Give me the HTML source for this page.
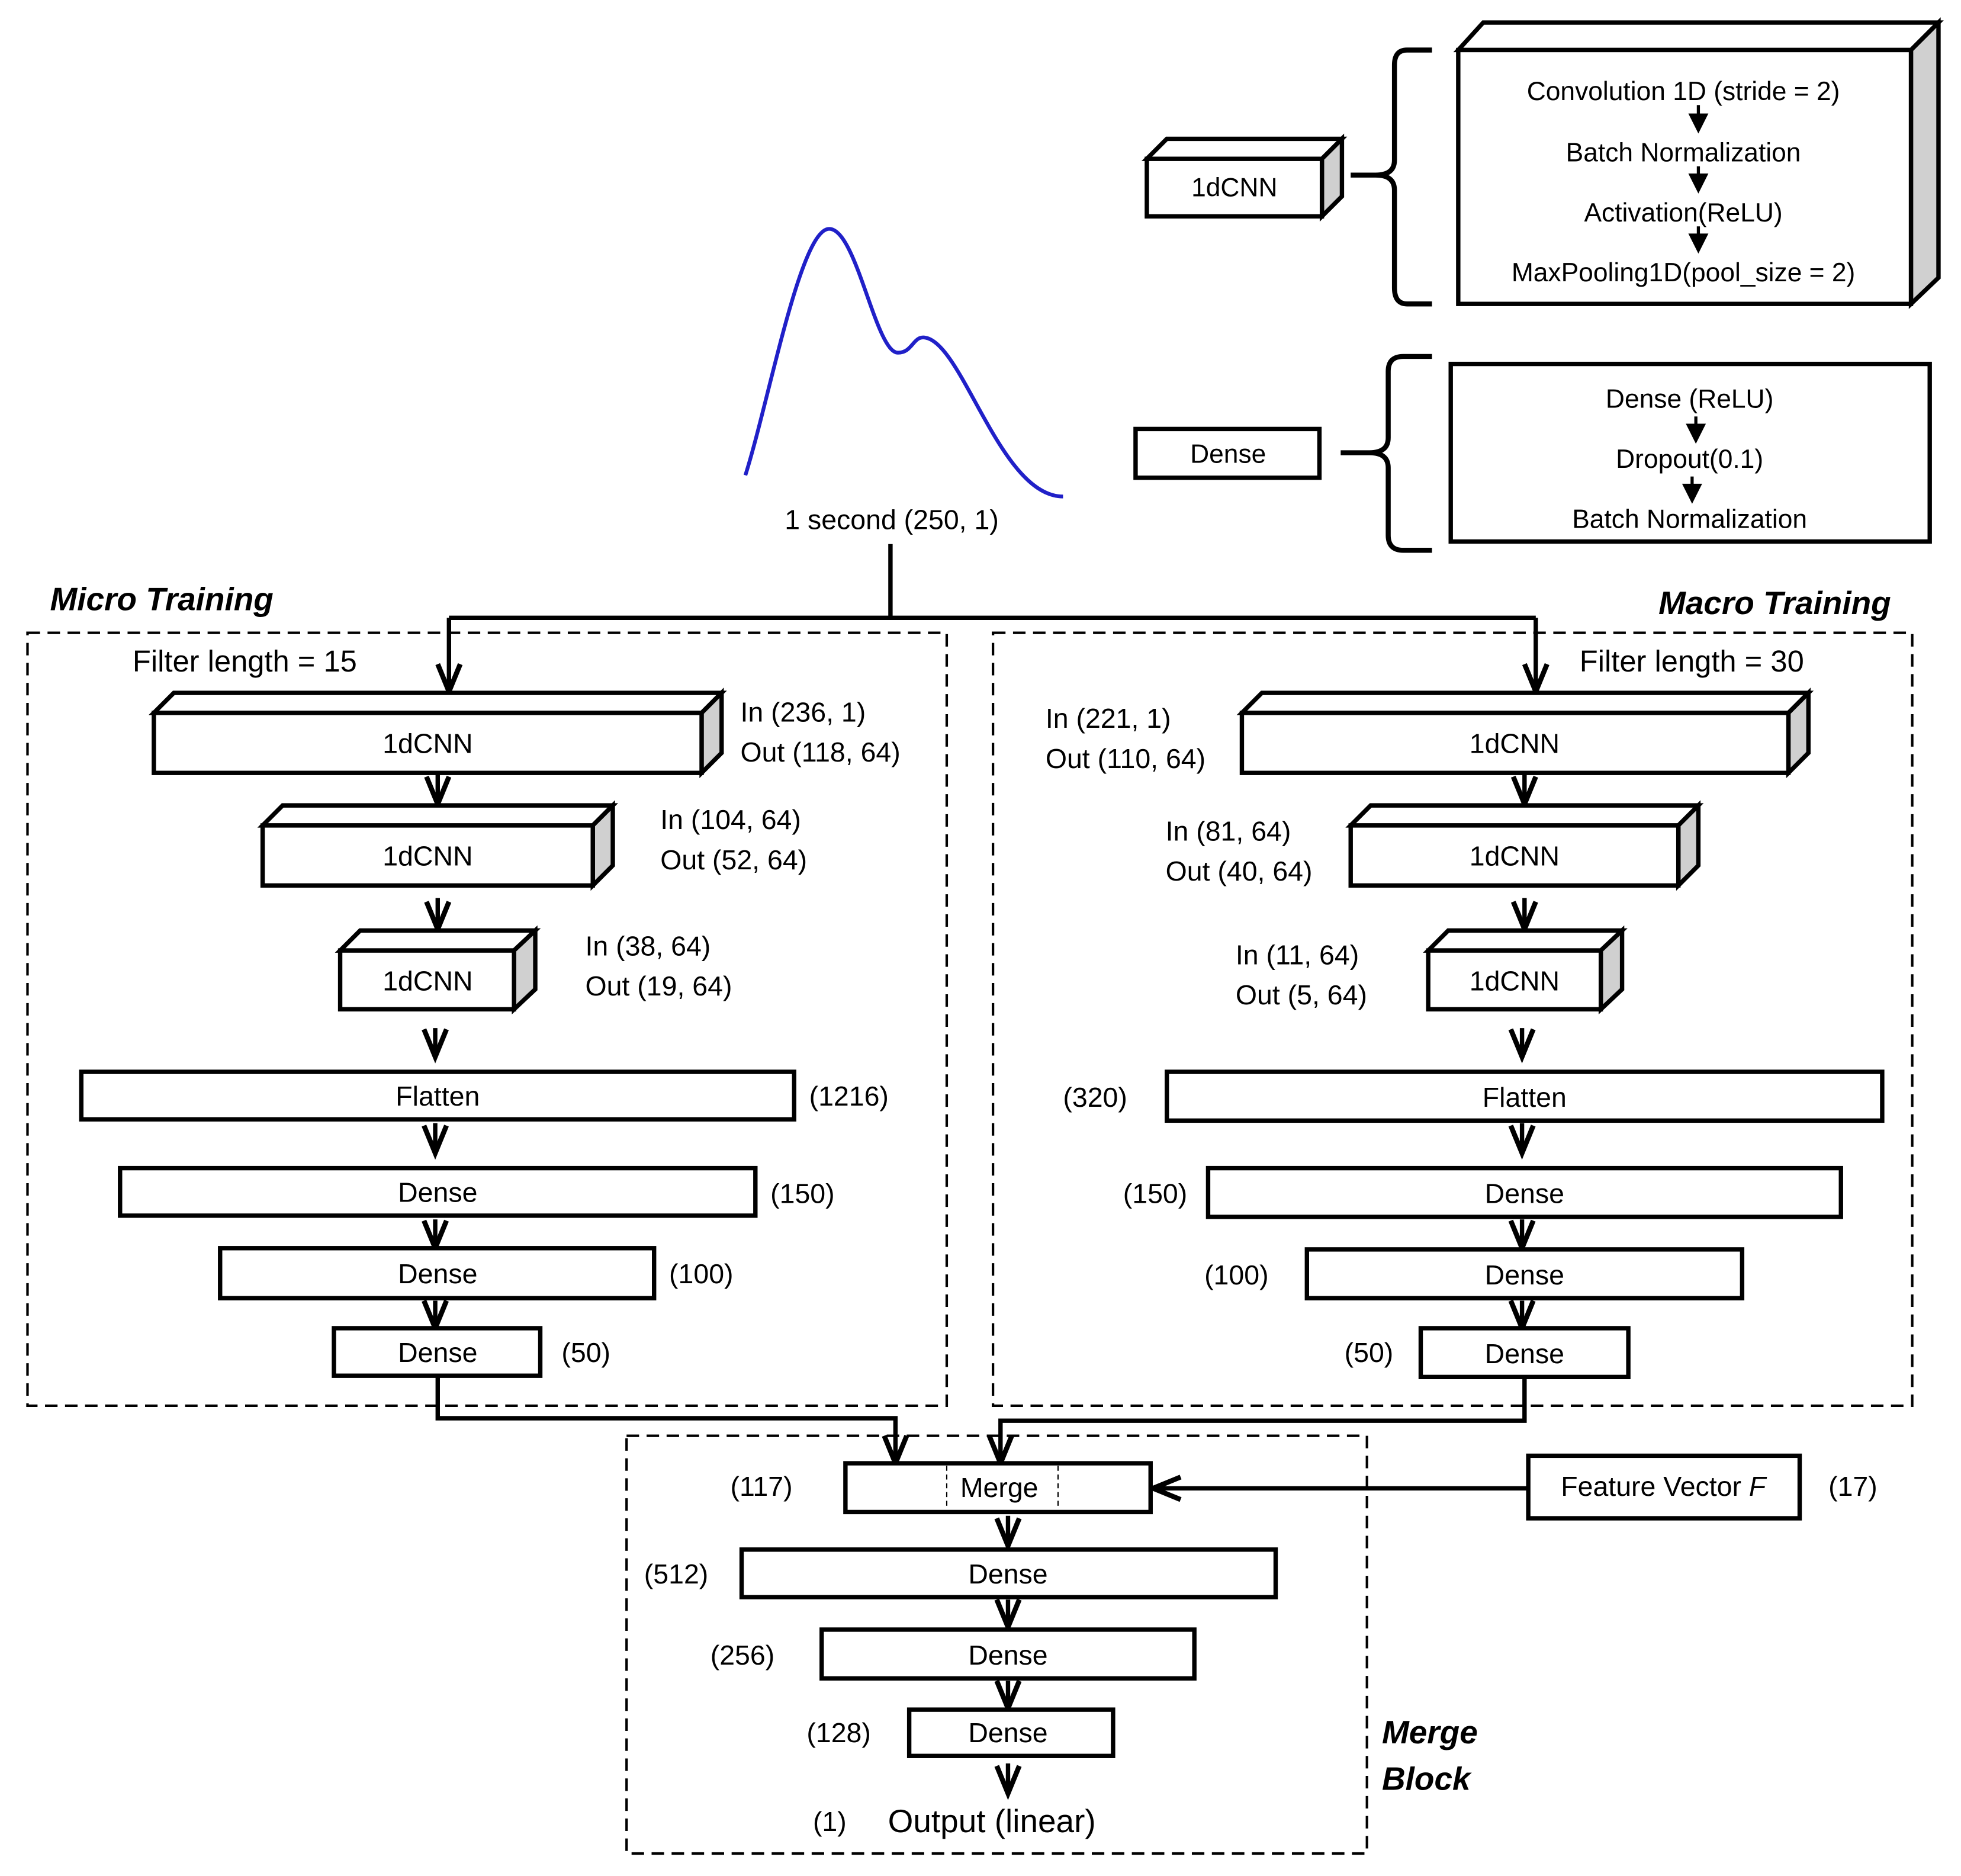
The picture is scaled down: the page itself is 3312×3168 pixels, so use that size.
<!DOCTYPE html>
<html><head><meta charset="utf-8"><style>
html,body{margin:0;padding:0;background:#fff}
svg{display:block}
text{font-family:"Liberation Sans",sans-serif;fill:#000}
</style></head><body>
<svg width="3312" height="3168" viewBox="0 0 1568 1500" preserveAspectRatio="none" xmlns="http://www.w3.org/2000/svg">
<defs>
<g id="ah"><polyline points="-9,-22 0,0 9,-22" fill="none" stroke="#000" stroke-width="4"/></g>
</defs>
<rect width="1568" height="1500" fill="#fff"/>
<g stroke="#000" stroke-width="3.5" fill="#fff" stroke-linejoin="miter">
<polygon points="917,127 933,111 1073,111 1057,127"/>
<polygon points="1057,127 1073,111 1073,157 1057,173" fill="#d0d0d0"/>
<rect x="917" y="127" width="140" height="46"/>
<polygon points="1166,40 1186,18 1550,18 1528,40"/>
<polygon points="1528,40 1550,18 1550,222 1528,243" fill="#d0d0d0"/>
<rect x="1166" y="40" width="362" height="203"/>
<rect x="908" y="343" width="147" height="39"/>
<rect x="1160" y="291" width="383" height="142"/>
</g>
<g fill="none" stroke="#000" stroke-width="4">
<path d="M1145,40 H1125 Q1115,40 1115,52 V128 Q1115,140 1100,140 H1080 M1100,140 Q1115,140 1115,152 V230 Q1115,243 1125,243 H1145"/>
<path d="M1145,285 H1122 Q1110,285 1110,297 V350 Q1110,362 1095,362 H1072 M1095,362 Q1110,362 1110,374 V428 Q1110,440 1122,440 H1145"/>
</g>
<g font-size="21" text-anchor="middle">
<text x="987" y="157">1dCNN</text>
<text x="1346" y="80">Convolution 1D (stride = 2)</text>
<text x="1346" y="129">Batch Normalization</text>
<text x="1346" y="177">Activation(ReLU)</text>
<text x="1346" y="225">MaxPooling1D(pool_size = 2)</text>
<text x="982" y="370">Dense</text>
<text x="1351" y="326">Dense (ReLU)</text>
<text x="1351" y="374">Dropout(0.1)</text>
<text x="1351" y="422">Batch Normalization</text>
</g>
<g fill="#000" stroke="#000" stroke-width="2.5">
<line x1="1358" y1="84" x2="1358" y2="95"/><polygon points="1352,92 1364,92 1358,104"/>
<line x1="1358" y1="133" x2="1358" y2="143"/><polygon points="1352,140 1364,140 1358,152"/>
<line x1="1358" y1="181" x2="1358" y2="191"/><polygon points="1352,188 1364,188 1358,200"/>
<line x1="1356" y1="333" x2="1356" y2="343"/><polygon points="1350,340 1362,340 1356,352"/>
<line x1="1353" y1="381" x2="1353" y2="391"/><polygon points="1347,388 1359,388 1353,400"/>
</g>
<path d="M596,380 C615,320 640,183 663,183 C685,183 700,282 718,282 C730,282 730,268 740,270 C770,275 800,397 850,397" fill="none" stroke="#2020c8" stroke-width="3"/>
<text x="713" y="423" font-size="22" text-anchor="middle">1 second (250, 1)</text>
<g fill="none" stroke="#000" stroke-width="2" stroke-dasharray="10,6">
<rect x="22" y="506" width="735" height="618"/>
<rect x="794" y="506" width="735" height="618"/>
<rect x="501" y="1148" width="592" height="334"/>
</g>
<g font-size="26" font-weight="bold" font-style="italic">
<text x="40" y="488">Micro Training</text>
<text x="1512" y="491" text-anchor="end">Macro Training</text>
<text x="1105" y="1394">Merge</text>
<text x="1105" y="1431">Block</text>
</g>
<g font-size="24">
<text x="106" y="537">Filter length = 15</text>
<text x="1263" y="537">Filter length = 30</text>
</g>
<g fill="none" stroke="#000" stroke-width="3.5">
<path d="M712,435 V494 M359,494 H1228 M359,494 V553 M1228,494 V553"/>
<path d="M350,1100 V1134 H716 V1170"/>
<path d="M1219,1101 V1136 H800 V1170"/>
<path d="M1222,1190 H922"/>
<path d="M350,618 V643 M350,718 V743 M348,822 V845 M348,898 V922 M348,975 V998 M348,1040 V1062"/>
<path d="M1219,618 V643 M1219,718 V743 M1217,822 V845 M1217,898 V922 M1217,975 V998 M1217,1040 V1062"/>
<path d="M806,1212 V1236 M806,1279 V1301 M806,1344 V1366 M806,1410 V1434"/>
</g>
<g>
<use href="#ah" x="359" y="553"/><use href="#ah" x="1228" y="553"/>
<use href="#ah" x="716" y="1170"/><use href="#ah" x="800" y="1170"/>
<use href="#ah" transform="translate(922,1190) rotate(90)"/>
<use href="#ah" x="350" y="643"/><use href="#ah" x="350" y="743"/><use href="#ah" x="348" y="845"/><use href="#ah" x="348" y="922"/><use href="#ah" x="348" y="998"/><use href="#ah" x="348" y="1062"/>
<use href="#ah" x="1219" y="643"/><use href="#ah" x="1219" y="743"/><use href="#ah" x="1217" y="845"/><use href="#ah" x="1217" y="922"/><use href="#ah" x="1217" y="998"/><use href="#ah" x="1217" y="1062"/>
<use href="#ah" x="806" y="1236"/><use href="#ah" x="806" y="1301"/><use href="#ah" x="806" y="1366"/><use href="#ah" x="806" y="1434"/>
</g>
<g stroke="#000" stroke-width="3.5" fill="#fff">
<polygon points="123,570 139,554 577,554 561,570"/><polygon points="561,570 577,554 577,602 561,618" fill="#d0d0d0"/><rect x="123" y="570" width="438" height="48"/>
<polygon points="210,660 226,644 490,644 474,660"/><polygon points="474,660 490,644 490,692 474,708" fill="#d0d0d0"/><rect x="210" y="660" width="264" height="48"/>
<polygon points="272,760 288,744 428,744 411,760"/><polygon points="411,760 428,744 428,791 411,807" fill="#d0d0d0"/><rect x="272" y="760" width="139" height="47"/>
<rect x="65" y="857" width="570" height="38"/>
<rect x="96" y="934" width="508" height="38"/>
<rect x="176" y="998" width="347" height="40"/>
<rect x="267" y="1062" width="165" height="38"/>
<polygon points="993,570 1009,554 1446,554 1430,570"/><polygon points="1430,570 1446,554 1446,602 1430,618" fill="#d0d0d0"/><rect x="993" y="570" width="437" height="48"/>
<polygon points="1080,660 1096,644 1358,644 1342,660"/><polygon points="1342,660 1358,644 1358,692 1342,708" fill="#d0d0d0"/><rect x="1080" y="660" width="262" height="48"/>
<polygon points="1142,760 1158,744 1297,744 1280,760"/><polygon points="1280,760 1297,744 1297,791 1280,807" fill="#d0d0d0"/><rect x="1142" y="760" width="138" height="47"/>
<rect x="933" y="857" width="572" height="39"/>
<rect x="966" y="934" width="506" height="39"/>
<rect x="1045" y="999" width="348" height="39"/>
<rect x="1136" y="1062" width="166" height="39"/>
<rect x="676" y="1170" width="244" height="39"/>
<rect x="1222" y="1164" width="217" height="50"/>
<rect x="593" y="1239" width="427" height="38"/>
<rect x="657" y="1303" width="298" height="39"/>
<rect x="727" y="1367" width="163" height="37"/>
</g>
<g stroke="#000" stroke-width="1" stroke-dasharray="4,3"><line x1="757" y1="1172" x2="757" y2="1207"/><line x1="846" y1="1172" x2="846" y2="1207"/></g>
<g font-size="22" text-anchor="middle">
<text x="342" y="602">1dCNN</text><text x="342" y="692">1dCNN</text><text x="342" y="792">1dCNN</text>
<text x="350" y="884">Flatten</text><text x="350" y="961">Dense</text><text x="350" y="1026">Dense</text><text x="350" y="1089">Dense</text>
<text x="1211" y="602">1dCNN</text><text x="1211" y="692">1dCNN</text><text x="1211" y="792">1dCNN</text>
<text x="1219" y="885">Flatten</text><text x="1219" y="962">Dense</text><text x="1219" y="1027">Dense</text><text x="1219" y="1090">Dense</text>
<text x="799" y="1197">Merge</text><text x="1330" y="1196">Feature Vector <tspan font-style="italic">F</tspan></text>
<text x="806" y="1266">Dense</text><text x="806" y="1331">Dense</text><text x="806" y="1393">Dense</text>
</g>
<g font-size="22">
<text x="592" y="577">In (236, 1)</text><text x="592" y="609">Out (118, 64)</text>
<text x="528" y="663">In (104, 64)</text><text x="528" y="695">Out (52, 64)</text>
<text x="468" y="764">In (38, 64)</text><text x="468" y="796">Out (19, 64)</text>
<text x="647" y="884">(1216)</text><text x="616" y="962">(150)</text><text x="535" y="1026">(100)</text><text x="449" y="1089">(50)</text>
<text x="836" y="582">In (221, 1)</text><text x="836" y="614">Out (110, 64)</text>
<text x="932" y="672">In (81, 64)</text><text x="932" y="704">Out (40, 64)</text>
<text x="988" y="771">In (11, 64)</text><text x="988" y="803">Out (5, 64)</text>
<text x="850" y="885">(320)</text><text x="898" y="962">(150)</text><text x="963" y="1027">(100)</text><text x="1075" y="1089">(50)</text>
<text x="584" y="1196">(117)</text><text x="1462" y="1196">(17)</text>
<text x="515" y="1266">(512)</text><text x="568" y="1331">(256)</text><text x="645" y="1393">(128)</text>
<text x="650" y="1464">(1)</text>
</g>
<text x="710" y="1465" font-size="26">Output (linear)</text>
</svg>
</body></html>
